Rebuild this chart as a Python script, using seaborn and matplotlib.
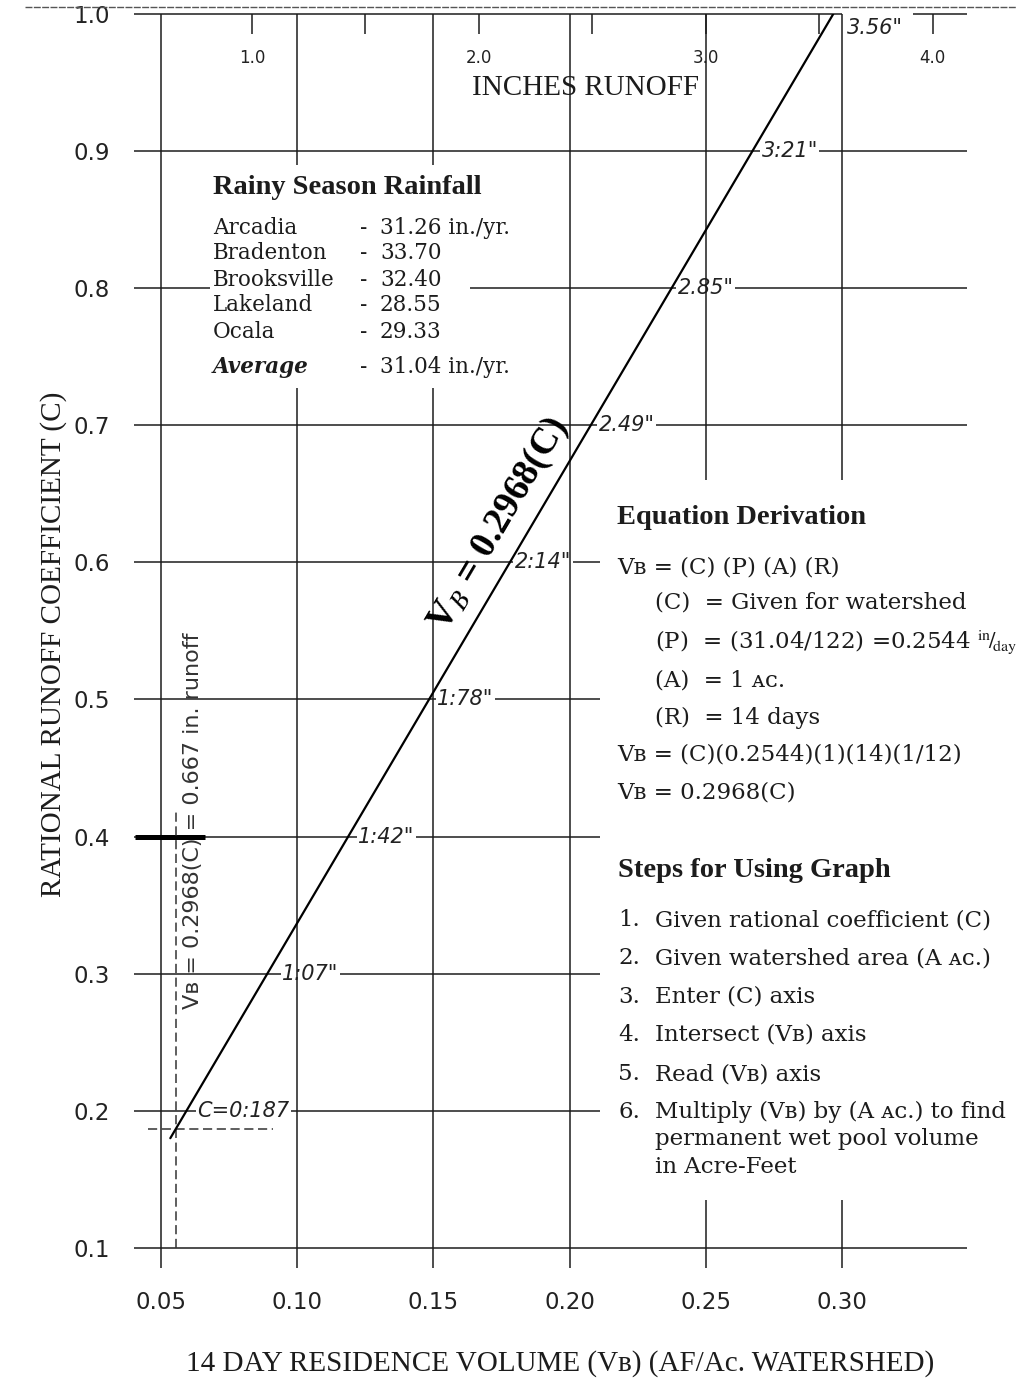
"""Permanent wet pool chart: 14 day residence volume vs rational runoff coefficient."""

import numpy as np
import matplotlib
matplotlib.use("Agg")
import matplotlib.pyplot as plt
import matplotlib.transforms as mtransforms
from matplotlib.lines import Line2D
import seaborn as sns

# ---- values ----
vb_ticks = [0.05, 0.10, 0.15, 0.20, 0.25, 0.30]
vb_tick_labels = ["0.05", "0.10", "0.15", "0.20", "0.25", "0.30"]
c_ticks = [0.1, 0.2, 0.3, 0.4, 0.5, 0.6, 0.7, 0.8, 0.9, 1.0]
c_tick_labels = ["0.1", "0.2", "0.3", "0.4", "0.5", "0.6", "0.7", "0.8", "0.9", "1.0"]
runoff_ticks = [1.0, 1.5, 2.0, 2.5, 3.0, 3.5, 4.0]
runoff_tick_labels = ["1.0", "", "2.0", "", "3.0", "", "4.0"]

# design line  VB = 0.2968(C)
line_c = [0.18, 1.0]
line_vb = [0.0534, 0.2968]

# inches of runoff written where the line crosses each C gridline
mark_c = [1.0, 0.9, 0.8, 0.7, 0.6, 0.5, 0.4, 0.3, 0.2]
mark_labels = ['3.56"', '3:21"', '2.85"', '2.49"', '2:14"', '1:78"', '1:42"', '1:07"', "C=0:187"]

# worked example
example_c = 0.187
example_vb = 0.0555

stations = ["Arcadia", "Bradenton", "Brooksville", "Lakeland", "Ocala"]
station_rain = ["31.26 in./yr.", "33.70", "32.40", "28.55", "29.33"]
average_rain = "31.04 in./yr."

# ---- layout ----
W, H = 1016, 1391
XLIM = (0.04, 0.346)
YLIM = (0.085, 1.0)
INK = "#1c1c1c"
SERIF = ["DejaVu Serif", "DejaVu Sans"]
TITLE = ["Liberation Serif", "DejaVu Serif"]
SANS = ["DejaVu Sans"]

# gridline pieces (gaps left for the text blocks)
v_segments = {
    0.05: [(0.085, 1.0)],
    0.10: [(0.085, 0.727), (0.890, 1.0)],
    0.15: [(0.085, 0.727), (0.890, 1.0)],
    0.20: [(0.085, 1.0)],
    0.25: [(0.085, 0.135), (0.660, 1.0)],
    0.30: [(0.085, 0.135), (0.660, 1.0)],
}
h_segments = {
    1.0: [(0.04, 0.30), (0.326, 0.346)],
    0.9: [(0.04, 0.346)],
    0.8: [(0.04, 0.068), (0.1634, 0.346)],
    0.7: [(0.04, 0.346)],
    0.6: [(0.04, 0.211)],
    0.5: [(0.04, 0.211)],
    0.4: [(0.04, 0.211)],
    0.3: [(0.04, 0.211)],
    0.2: [(0.04, 0.211)],
    0.1: [(0.04, 0.346)],
}
mark_dx = [14, 9, 6, 8, 5, 8, 10, 15, 11]
mark_dy = [-14, 0, 0, 0, 0, 0, 0, 0, 0]


def fx(x):
    return x / W


def fy(y):
    return 1 - y / H


sns.set_theme(style="white")
plt.rcParams["font.family"] = SANS
plt.rcParams["mathtext.fontset"] = "stix"

fig = plt.figure(figsize=(W / 100, H / 100), dpi=100)
fig.patch.set_facecolor("white")
ax = fig.add_axes([0.1317, 0.0881, 0.8204, 0.9019])
ax.set_xlim(*XLIM)
ax.set_ylim(*YLIM)
for sp in ax.spines.values():
    sp.set_visible(False)

# grid
for x, segs in v_segments.items():
    for y0, y1 in segs:
        ax.vlines(x, y0, y1, color=INK, lw=1.1, zorder=3, clip_on=False)
for y, segs in h_segments.items():
    for x0, x1 in segs:
        ax.hlines(y, x0, x1, color=INK, lw=1.1, zorder=1, clip_on=False)

# heavy bar on C = 0.4 at the left edge
ax.hlines(0.4, 0.0405, 0.0662, color="black", lw=3.6, zorder=3)

# design line
sns.lineplot(x=line_vb, y=line_c, ax=ax, color="black", linewidth=1.6,
             estimator=None, sort=False, zorder=4)

# example dashes
ax.vlines(example_vb, 0.1, 0.421, color="#333333", lw=1.1,
          linestyles=(0, (6, 3)), zorder=3)
ax.hlines(example_c, 0.0452, 0.091, color="#333333", lw=1.1,
          linestyles=(0, (6, 3)), zorder=3)

# runoff labels along the line
for c, lab, dx, dy in zip(mark_c, mark_labels, mark_dx, mark_dy):
    vb = np.interp(c, line_c, line_vb)
    tr = mtransforms.offset_copy(ax.transData, fig=fig, x=dx, y=dy, units="dots")
    ax.text(vb, c, lab, transform=tr, ha="left", va="center", fontsize=15,
            style="italic", family=SANS, color="#222222", zorder=2,
            bbox=dict(facecolor="white", edgecolor="none", pad=1.0))

# equation along the line
p0 = ax.transData.transform((line_vb[0], line_c[0]))
p1 = ax.transData.transform((line_vb[1], line_c[1]))
angle = np.degrees(np.arctan2(p1[1] - p0[1], p1[0] - p0[0]))
ax.text(0.1741, 0.6273, r"V$_{B}$ = 0.2968(C)", rotation=angle, rotation_mode="anchor",
        ha="center", va="center", fontsize=27, family=TITLE, weight="bold",
        color="black", zorder=5)

# vertical note by the example
ax.text(0.06175, 0.4114, "Vʙ = 0.2968(C) = 0.667 in. runoff", rotation=90,
        ha="center", va="center", fontsize=16, family=SANS, color="#333333", zorder=2)

# axes ticks
ax.set_xticks(vb_ticks, vb_tick_labels)
ax.set_yticks(c_ticks, c_tick_labels)
ax.tick_params(axis="x", length=0, labelsize=16.5, pad=16, labelcolor="#222222")
ax.tick_params(axis="y", length=0, labelsize=16.5, pad=17, labelcolor="#222222")

# inches of runoff scale on top
sec = ax.secondary_xaxis("top", functions=(lambda v: v * 12, lambda r: r / 12))
sec.set_xticks(runoff_ticks, runoff_tick_labels)
sec.tick_params(direction="in", length=14.4, width=1.1, color=INK, pad=-38,
                labelsize=12, labelcolor="#222222")
sec.spines["top"].set_visible(False)

# scan edge line at the very top
fig.add_artist(Line2D([fx(25), 1.0], [fy(7), fy(7)], transform=fig.transFigure,
                      color="#555555", lw=1.0, linestyle=(0, (5, 1))))

# axis titles
fig.text(fx(586), fy(88), "INCHES RUNOFF", ha="center", va="center",
         fontsize=21, family=TITLE, color=INK)
fig.text(fx(560), fy(1364), "14 DAY RESIDENCE VOLUME (Vʙ) (AF/Ac. WATERSHED)",
         ha="center", va="center", fontsize=21, family=TITLE, color=INK)
fig.text(fx(54), fy(644), "RATIONAL RUNOFF COEFFICIENT (C)", rotation=90,
         ha="center", va="center", fontsize=21, family=TITLE, color=INK)

# rainfall block
fig.text(fx(213), fy(188), "Rainy Season Rainfall", ha="left", va="center",
         fontsize=20.5, family=TITLE, weight="bold", color=INK)
rows_y = [228, 253, 280, 305, 332]
for name, val, y in zip(stations, station_rain, rows_y):
    fig.text(fx(213), fy(y), name, ha="left", va="center", fontsize=15.5,
             family=SERIF, color=INK)
    fig.text(fx(360), fy(y), "-", ha="left", va="center", fontsize=15.5,
             family=SERIF, color=INK)
    fig.text(fx(380), fy(y), val, ha="left", va="center", fontsize=15.5,
             family=SERIF, color=INK)
fig.text(fx(213), fy(367), "Average", ha="left", va="center", fontsize=15.5,
         family=SERIF, weight="bold", style="italic", color=INK)
fig.text(fx(360), fy(367), "-", ha="left", va="center", fontsize=15.5,
         family=SERIF, color=INK)
fig.text(fx(380), fy(367), average_rain, ha="left", va="center", fontsize=15.5,
         family=SERIF, color=INK)

# equation derivation block
fig.text(fx(617), fy(518), "Equation Derivation", ha="left", va="center",
         fontsize=20.5, family=TITLE, weight="bold", color=INK)
deriv = [
    (617, 567, "Vʙ = (C) (P) (A) (R)"),
    (655, 602, "(C)  = Given for watershed"),
    (655, 642, r"(P)  = (31.04/122) =0.2544 $^{\rm in}\!/\!_{\rm day}$"),
    (655, 680, "(A)  = 1 ᴀᴄ."),
    (655, 718, "(R)  = 14 days"),
    (617, 755, "Vʙ = (C)(0.2544)(1)(14)(1/12)"),
    (617, 792, "Vʙ = 0.2968(C)"),
]
for x, y, s in deriv:
    fig.text(fx(x), fy(y), s, ha="left", va="center", fontsize=16.5,
             family=SERIF, color=INK)

# steps block
fig.text(fx(618), fy(870), "Steps for Using Graph", ha="left", va="center",
         fontsize=20.5, family=TITLE, weight="bold", color=INK)
steps = [
    (920, "1.", "Given rational coefficient (C)"),
    (958, "2.", "Given watershed area (A ᴀᴄ.)"),
    (997, "3.", "Enter (C) axis"),
    (1035, "4.", "Intersect (Vʙ) axis"),
    (1074, "5.", "Read (Vʙ) axis"),
    (1112, "6.", "Multiply (Vʙ) by (A ᴀᴄ.) to find"),
    (1139, "", "permanent wet pool volume"),
    (1167, "", "in Acre-Feet"),
]
for y, num, s in steps:
    if num:
        fig.text(fx(618), fy(y), num, ha="left", va="center", fontsize=16.5,
                 family=SERIF, color=INK)
    fig.text(fx(655), fy(y), s, ha="left", va="center", fontsize=16.5,
             family=SERIF, color=INK)

fig.savefig("out.png", dpi=100, facecolor="white")
plt.close(fig)
